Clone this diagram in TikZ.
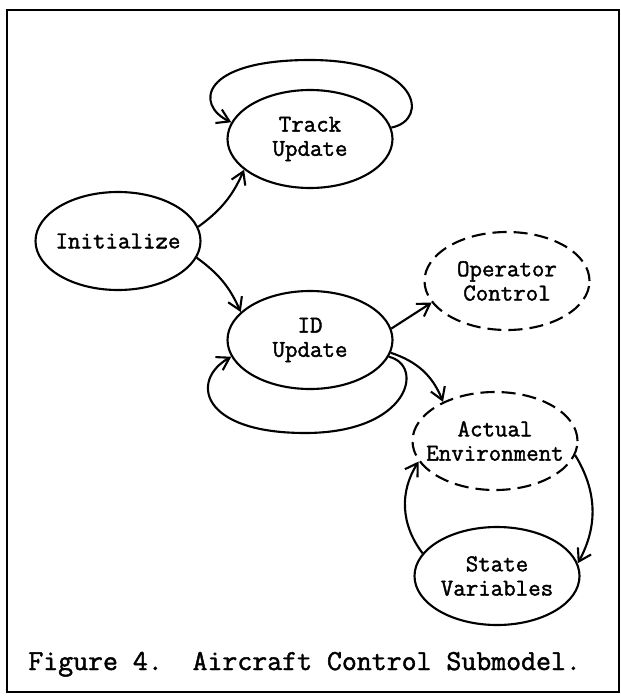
\documentclass[tikz,border=0pt]{standalone}
\usepackage{fontspec}
\setmonofont{Latin Modern Mono}[RawFeature={embolden=1.6}]
\usepackage{tikz}
\usetikzlibrary{shapes,arrows.meta}
\tikzset{
	state/.style    = {draw, ellipse, line width=1.2pt, minimum width=3.3cm,
		minimum height=1.96cm, inner xsep=-4mm, inner ysep=0pt, align=center,
		font=\bubblefont},
	envstate/.style = {state, dash pattern=on 8pt off 4pt},
	link/.style     = {->, line width=1.2pt}
}
\newcommand{\bubblefont}{\ttfamily\fontsize{13.8}{13.8}\selectfont}
\newcommand{\figfont}{\ttfamily\fontsize{16.5}{18}\selectfont}

\begin{document}
\begin{tikzpicture}[>={Straight Barb[length=2.4mm,width=3mm]}]

	\useasboundingbox (0,0) rectangle (12.4,-13.92);
	\draw[line width=1.2pt] (0.14,-0.2) rectangle (12.38,-13.84);

	\draw
	% the six processes
	node at (2.36,-4.82) [state] (init) {Initialize}
	node at (6.2,-2.78)  [state] (track) {Track\\Update}
	node at (6.2,-6.8)   [state] (idup) {ID\\Update}
	node at (10.14,-5.62)[envstate] (oper) {Operator\\Control}
	node at (9.9,-8.82)  [envstate] (actual) {Actual\\Environment}
	node at (9.94,-11.52)[state] (statevar) {State\\Variables};

	\draw[link] (init.10) to[bend right=15] (track.205);
	\draw[link] (init.-12) to[bend left=15] (idup.158);
	\draw[link] (idup.8) -- (oper.196);
	\draw[link] (idup.-9) to[bend left=25] (actual.143);
	\draw[link] (statevar.163) to[bend left=35] (actual.195);
	\draw[link] (actual.-10) to[bend left=30] (statevar.9);

	% self loops
	\draw[link] (track.8) .. controls (8.6,-2.4) and (8.4,-1.2) .. (6.2,-1.2)
		.. controls (4.0,-1.2) and (3.9,-2.1) .. (track.168);
	\draw[link] (idup.-12) .. controls (8.5,-7.3) and (8.2,-8.66) .. (6.1,-8.66)
		.. controls (4.0,-8.66) and (3.8,-7.6) .. (idup.192);

	\node[anchor=base west, inner sep=0pt, font=\figfont] (caption) at (0.56,-13.4)
		{Figure 4.~~Aircraft Control Submodel.};

\end{tikzpicture}
\end{document}
